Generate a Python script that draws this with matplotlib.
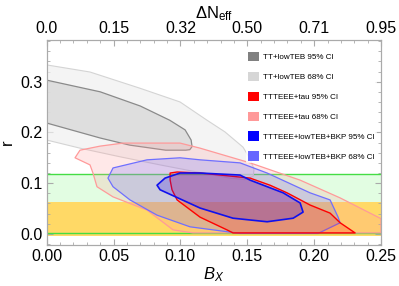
import numpy as np
import matplotlib
matplotlib.use("Agg")
import matplotlib.pyplot as plt
from matplotlib.patches import Polygon, Patch

plt.rcParams['font.family'] = ['Liberation Sans', 'DejaVu Sans']
plt.rcParams['mathtext.fontset'] = 'custom'
plt.rcParams['mathtext.it'] = 'Liberation Sans:italic'
plt.rcParams['mathtext.rm'] = 'Liberation Sans'

# contour outlines, (B_X, r)
tt_68 = [(0.0, 0.333), (0.0324, 0.319), (0.0698, 0.287), (0.0997, 0.260), (0.1199, 0.224),
         (0.1333, 0.201), (0.1468, 0.171), (0.1520, 0.148), (0.1550, 0.128), (0.1545, 0.114),
         (0.1483, 0.107), (0.1371, 0.110), (0.1124, 0.122), (0.0848, 0.136), (0.0548, 0.152),
         (0.0249, 0.169), (0.0, 0.185)]
tt_95 = [(0.0, 0.303), (0.040, 0.280), (0.070, 0.252), (0.092, 0.224), (0.1035, 0.205),
         (0.108, 0.185), (0.1087, 0.172), (0.1070, 0.166), (0.104, 0.165), (0.089, 0.165),
         (0.062, 0.175), (0.040, 0.189), (0.0, 0.2185)]
tau_68 = [(0.0212, 0.150), (0.0249, 0.165), (0.0399, 0.173), (0.0571, 0.179), (0.0997, 0.179),
          (0.1147, 0.169), (0.1521, 0.140), (0.1895, 0.106), (0.2194, 0.071), (0.25, 0.030),
          (0.25, 0.002), (0.1094, 0.002), (0.0945, 0.008), (0.0750, 0.047), (0.0496, 0.073),
          (0.0376, 0.093), (0.0346, 0.120), (0.0324, 0.136)]
bkp_68 = [(0.0458, 0.110), (0.0496, 0.130), (0.0750, 0.146), (0.0997, 0.150), (0.1147, 0.146),
          (0.1446, 0.140), (0.1648, 0.120), (0.1969, 0.081), (0.2119, 0.067), (0.2179, 0.033),
          (0.2194, 0.022), (0.2029, 0.001), (0.1446, 0.001), (0.1072, 0.014), (0.0825, 0.037),
          (0.0623, 0.067), (0.0496, 0.093)]
tau_95 = [(0.0923, 0.120), (0.0975, 0.122), (0.1147, 0.120), (0.1521, 0.110), (0.1670, 0.096),
          (0.1797, 0.081), (0.1969, 0.057), (0.2119, 0.041), (0.2194, 0.022), (0.2306, 0.002),
          (0.1393, 0.002), (0.1348, 0.008), (0.1147, 0.033), (0.0975, 0.067), (0.0937, 0.087),
          (0.0923, 0.106)]
bkp_95 = [(0.0825, 0.096), (0.0885, 0.110), (0.0997, 0.120), (0.1147, 0.120), (0.1446, 0.116),
          (0.1521, 0.106), (0.1768, 0.081), (0.1895, 0.061), (0.1917, 0.043), (0.1843, 0.031),
          (0.1648, 0.024), (0.1393, 0.031), (0.1147, 0.051), (0.0848, 0.087)]

green_band = (0.002, 0.118)
orange_band = (-0.004, 0.062)

bx_ticks = [0.0, 0.05, 0.10, 0.15, 0.20, 0.25]
dneff_labels = ['0.0', '0.15', '0.32', '0.50', '0.71', '0.95']

labels = ['TT+lowTEB 95% CI', 'TT+lowTEB 68% CI', 'TTTEEE+tau 95% CI',
          'TTTEEE+tau 68% CI', 'TTTEEE+lowTEB+BKP 95% CI', 'TTTEEE+lowTEB+BKP 68% CI']
legend_colors = ['#808080', '#d6d6d6', '#ff0000', '#ff9999', '#0000ff', '#6666ff']

fig = plt.figure(figsize=(3.99, 2.86), dpi=100)
ax = fig.add_axes([0.117, 0.143, 0.838, 0.717])

ax.axhspan(green_band[0], green_band[1], color='#e2fde2', lw=0, zorder=0)
ax.axhspan(orange_band[0], orange_band[1], color='#ffd966', lw=0, zorder=1)
ax.axhline(green_band[0], color='#44dd44', lw=1.0, zorder=2)
ax.axhline(green_band[1], color='#44dd44', lw=1.0, zorder=2)

shapes = [
    (tt_68, (0.94, 0.94, 0.94, 0.7), '#d4d4d4', 0.8),
    (tt_95, (0.85, 0.85, 0.85, 0.8), '#8a8a8a', 0.9),
    (tau_68, (1.0, 0.6, 0.6, 0.22), '#ff9a9a', 0.9),
    (bkp_68, (0.4, 0.4, 1.0, 0.22), '#6f6fff', 0.9),
    (tau_95, (1.0, 0.1, 0.1, 0.22), '#ff0000', 1.0),
    (bkp_95, (0.2, 0.1, 0.9, 0.25), '#1010ee', 1.2),
]
for i, (pts, fc, ec, lw) in enumerate(shapes):
    ax.add_patch(Polygon(pts, closed=True, facecolor=fc, edgecolor=ec, lw=lw,
                         joinstyle='round', zorder=3 + i))

ax.set_xlim(0, 0.25)
ax.set_ylim(-0.022, 0.382)
ax.set_xticks(bx_ticks)
ax.set_xticklabels(['0.00', '0.05', '0.10', '0.15', '0.20', '0.25'])
ax.set_yticks([0.0, 0.1, 0.2, 0.3])
ax.set_xticks(np.arange(0, 0.251, 0.01), minor=True)
ax.set_yticks(np.arange(-0.02, 0.381, 0.02), minor=True)
ax.tick_params(which='both', direction='in', color='#aaaaaa', labelsize=11.5,
               right=True, pad=3)
ax.tick_params(which='major', length=4)
ax.tick_params(which='minor', length=2)
for s in ax.spines.values():
    s.set_color('#aaaaaa')

top = ax.twiny()
top.set_xlim(ax.get_xlim())
top.set_xticks(bx_ticks)
top.set_xticklabels(dneff_labels)
top.set_xticks(np.arange(0, 0.251, 0.01), minor=True)
top.tick_params(which='both', direction='in', color='#aaaaaa', labelsize=11.5, pad=3)
top.tick_params(which='major', length=4)
top.tick_params(which='minor', length=2)
top.set_xlabel(r'$\Delta$N$_{\rm eff}$', fontsize=12, labelpad=2)
for s in top.spines.values():
    s.set_color('#aaaaaa')

ax.set_xlabel('$B_X$', fontsize=12, labelpad=1)
ax.set_ylabel('r', fontsize=12, labelpad=4)

handles = [Patch(facecolor=c, edgecolor='none') for c in legend_colors]
leg = ax.legend(handles, labels, loc='upper right', bbox_to_anchor=(1.0, 0.975),
                fontsize=5.8, frameon=True, labelspacing=1.32, handlelength=1.4,
                handleheight=1.4, handletextpad=0.45, borderpad=0.3)
leg.get_frame().set_facecolor('white')
leg.get_frame().set_alpha(0.75)
leg.get_frame().set_edgecolor('none')
leg.set_zorder(20)

fig.savefig('out.png', dpi=100)
